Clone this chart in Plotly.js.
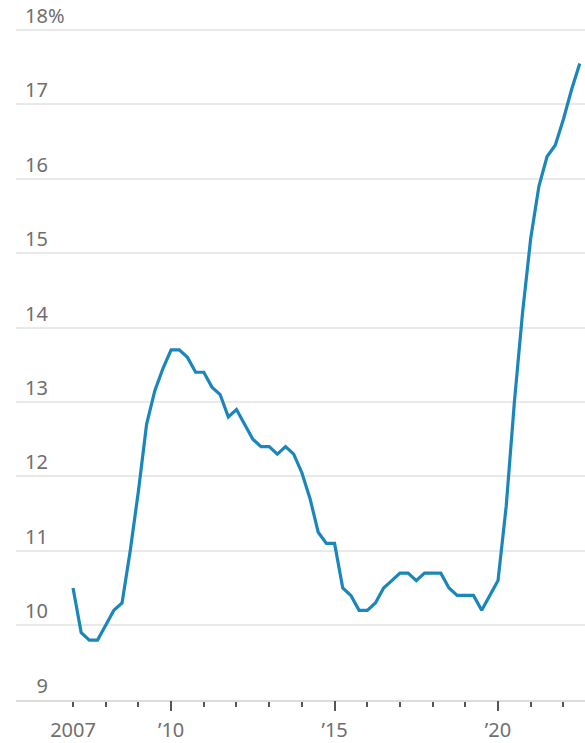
<!DOCTYPE html>
<html>
<head>
<meta charset="utf-8">
<script src="https://cdn.plot.ly/plotly-3.0.1.min.js"></script>
<style>
  html, body { margin: 0; padding: 0; background: #fff; }
  #chart { width: 585px; height: 743px; }
</style>
</head>
<body>
<div id="chart"></div>
<script>
// Quarterly observations, as decimal years
const quarters = [
  2007.00, 2007.25, 2007.50, 2007.75,
  2008.00, 2008.25, 2008.50, 2008.75,
  2009.00, 2009.25, 2009.50, 2009.75,
  2010.00, 2010.25, 2010.50, 2010.75,
  2011.00, 2011.25, 2011.50, 2011.75,
  2012.00, 2012.25, 2012.50, 2012.75,
  2013.00, 2013.25, 2013.50, 2013.75,
  2014.00, 2014.25, 2014.50, 2014.75,
  2015.00, 2015.25, 2015.50, 2015.75,
  2016.00, 2016.25, 2016.50, 2016.75,
  2017.00, 2017.25, 2017.50, 2017.75,
  2018.00, 2018.25, 2018.50, 2018.75,
  2019.00, 2019.25, 2019.50, 2019.75,
  2020.00, 2020.25, 2020.50, 2020.75,
  2021.00, 2021.25, 2021.50, 2021.75,
  2022.00, 2022.25, 2022.50
];

// Rate, percent
const rate = [
  10.5, 9.9, 9.8, 9.8,
  10.0, 10.2, 10.3, 11.0,
  11.8, 12.7, 13.15, 13.45,
  13.7, 13.7, 13.6, 13.4,
  13.4, 13.2, 13.1, 12.8,
  12.9, 12.7, 12.5, 12.4,
  12.4, 12.3, 12.4, 12.3,
  12.05, 11.7, 11.25, 11.1,
  11.1, 10.5, 10.4, 10.2,
  10.2, 10.3, 10.5, 10.6,
  10.7, 10.7, 10.6, 10.7,
  10.7, 10.7, 10.5, 10.4,
  10.4, 10.4, 10.2, 10.4,
  10.6, 11.6, 13.0, 14.2,
  15.2, 15.9, 16.3, 16.45,
  16.8, 17.2, 17.55
];

// Axis ticks and labels
const yTickVals = [9, 10, 11, 12, 13, 14, 15, 16, 17, 18];
const yTickText = ['\u20079', '10', '11', '12', '13', '14', '15', '16', '17', '18%'];
const xTickVals = [2007, 2010, 2015, 2020];
const xTickText = ['2007', '\u201910', '\u201915', '\u201920'];
const xMajorVals = [2010, 2015, 2020];

const xRange = [2005.256, 2022.66];
const labelFont = { family: 'Noto Sans, Open Sans, sans-serif', size: 20, color: '#6f6f6f' };

const traces = [
  {
    x: quarters,
    y: rate,
    type: 'scatter',
    mode: 'lines',
    line: { color: '#1a86bc', width: 3.2, shape: 'linear' },
    hoverinfo: 'x+y',
    showlegend: false
  },
  {
    // carrier for the longer five-year ticks
    x: quarters,
    y: rate,
    xaxis: 'x2',
    type: 'scatter',
    mode: 'lines',
    opacity: 0,
    line: { width: 0 },
    hoverinfo: 'skip',
    showlegend: false
  }
];

const layout = {
  width: 585,
  height: 743,
  margin: { l: 16, r: 0, t: 0, b: 43, pad: 0 },
  paper_bgcolor: '#ffffff',
  plot_bgcolor: '#ffffff',
  showlegend: false,
  xaxis: {
    range: xRange,
    showgrid: false,
    zeroline: false,
    showline: true,
    linecolor: '#dcdcdc',
    linewidth: 2,
    ticks: 'outside',
    tickvals: xTickVals,
    ticktext: xTickText,
    ticklen: 5,
    tickwidth: 2,
    tickcolor: '#555555',
    tickfont: labelFont,
    ticklabelstandoff: 6,
    minor: {
      tick0: 2007,
      dtick: 1,
      ticks: 'outside',
      ticklen: 5,
      tickwidth: 2,
      tickcolor: '#555555',
      showgrid: false
    },
    fixedrange: true
  },
  xaxis2: {
    overlaying: 'x',
    anchor: 'y',
    side: 'bottom',
    range: xRange,
    showgrid: false,
    zeroline: false,
    showline: false,
    ticks: 'outside',
    tickvals: xMajorVals,
    ticklen: 10,
    tickwidth: 2,
    tickcolor: '#555555',
    showticklabels: false,
    fixedrange: true
  },
  yaxis: {
    range: [8.995, 18.403],
    tickvals: yTickVals,
    ticktext: yTickText,
    ticklabelposition: 'inside top',
    ticklabelstandoff: 6,
    ticks: '',
    showgrid: true,
    gridcolor: '#e9e9e9',
    gridwidth: 2,
    zeroline: false,
    showline: false,
    tickfont: labelFont,
    fixedrange: true
  }
};

Plotly.newPlot('chart', traces, layout, { displayModeBar: false, staticPlot: true });
</script>
</body>
</html>
